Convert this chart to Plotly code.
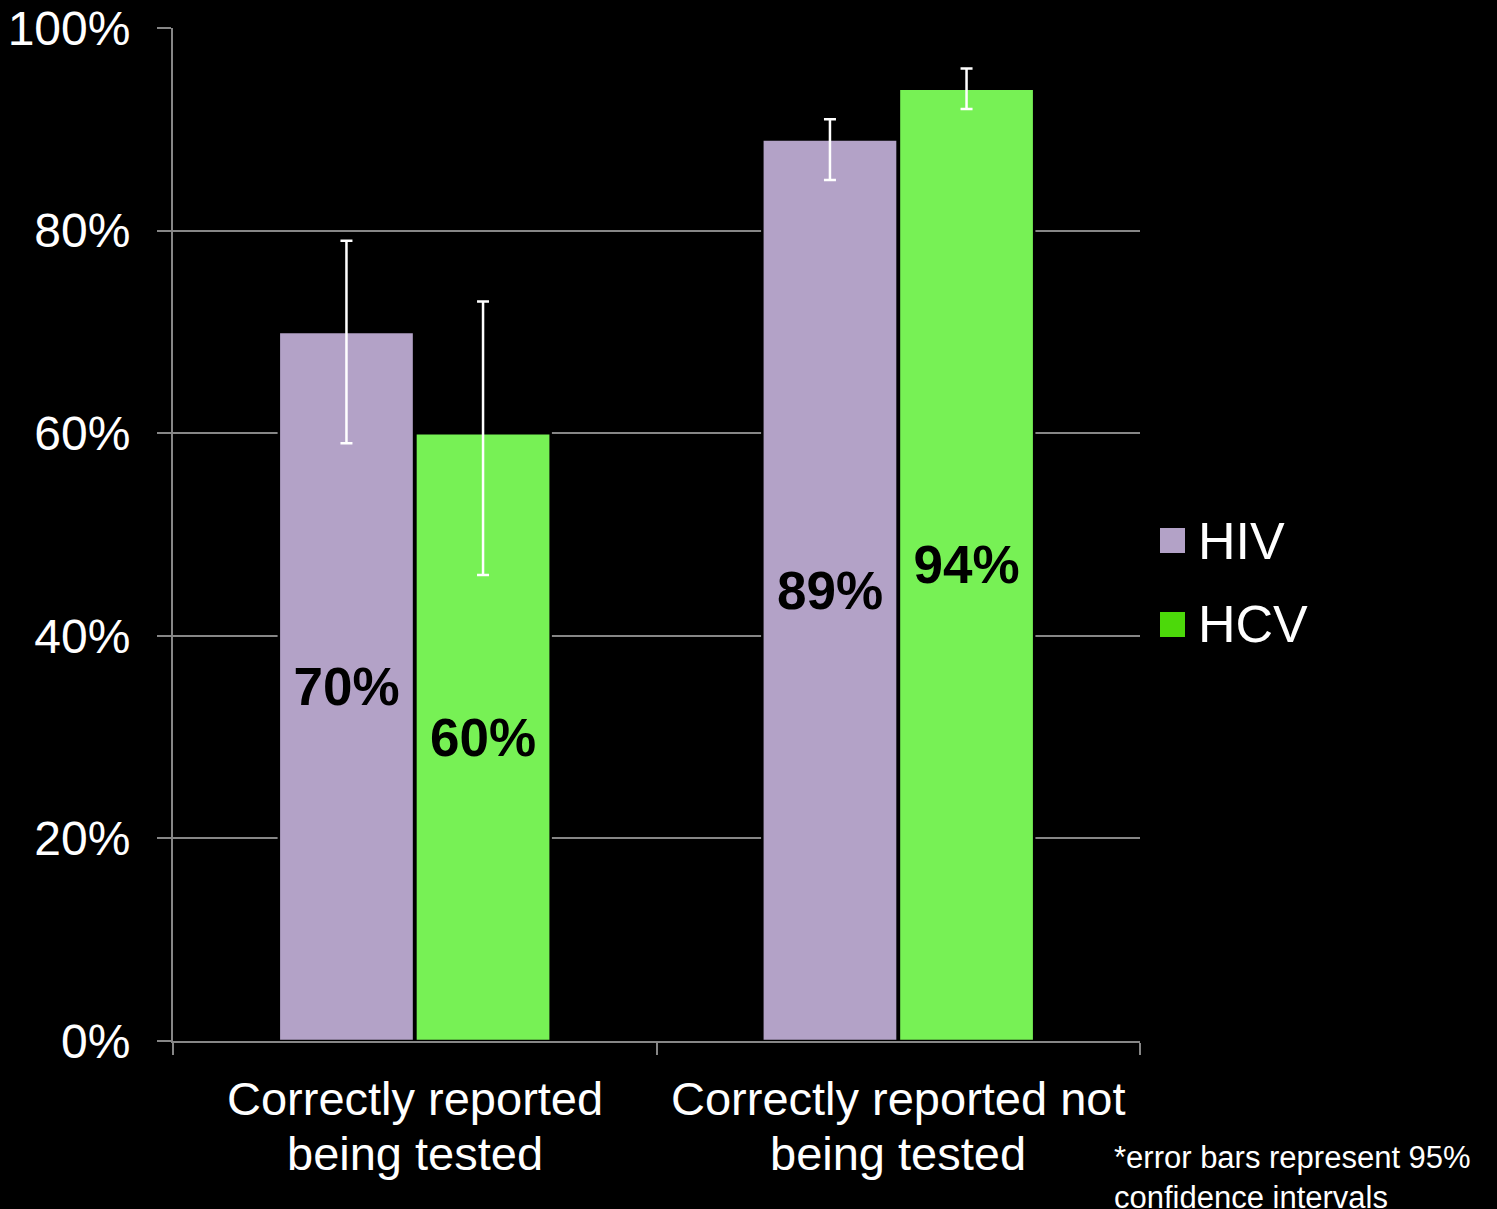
import plotly.graph_objects as go

categories = ["Correctly reported<br>being tested", "Correctly reported not<br>being tested"]
hiv_values = [70, 89]
hiv_ci_low = [59, 85]
hiv_ci_high = [79, 91]
hcv_values = [60, 94]
hcv_ci_low = [46, 92]
hcv_ci_high = [73, 96]
series_names = ["HIV", "HCV"]
y_ticks = [0, 20, 40, 60, 80, 100]

HIV_COLOR = "#B3A2C7"
HCV_COLOR = "#77F155"
HCV_LEGEND_COLOR = "#4CD90A"
GRID = "#868686"
FONT = "Liberation Sans, Arial, sans-serif"


def err(vals, lo, hi):
    return dict(
        type="data", symmetric=False,
        array=[h - v for v, h in zip(vals, hi)],
        arrayminus=[v - l for v, l in zip(vals, lo)],
        color="white", thickness=2.5, width=6,
    )


fig = go.Figure()
fig.add_trace(go.Bar(
    name=series_names[0], x=categories, y=hiv_values,
    marker=dict(color=HIV_COLOR, line=dict(color="black", width=2.5)),
    error_y=err(hiv_values, hiv_ci_low, hiv_ci_high),
    text=[f"{v}%" for v in hiv_values], textposition="inside",
    insidetextanchor="middle",
    textfont=dict(family=FONT, size=53, color="black", weight="bold"),
    showlegend=False,
))
fig.add_trace(go.Bar(
    name=series_names[1], x=categories, y=hcv_values,
    marker=dict(color=HCV_COLOR, line=dict(color="black", width=2.5)),
    error_y=err(hcv_values, hcv_ci_low, hcv_ci_high),
    text=[f"{v}%" for v in hcv_values], textposition="inside",
    insidetextanchor="middle",
    textfont=dict(family=FONT, size=53, color="black", weight="bold"),
    showlegend=False,
))

W, H = 1497, 1209
L, R, T, B = 173, 1140, 28, 1041


def px_x(p):
    return (p - L) / (R - L)


def px_y(p):
    return (B - p) / (B - T)


# category labels (two lines each, tighter line spacing than tick labels)
for cat in categories:
    for i, line in enumerate(cat.split("<br>")):
        fig.add_annotation(xref="x", yref="paper", x=cat, y=px_y(1098 + 55 * i),
                           text=line, showarrow=False, xanchor="center", yanchor="middle",
                           font=dict(family=FONT, size=47, color="white"))

# manual legend
legend_items = [(series_names[0], HIV_COLOR, 528, 553), (series_names[1], HCV_LEGEND_COLOR, 612, 637)]
for name, col, y0, y1 in legend_items:
    fig.add_shape(type="rect", xref="paper", yref="paper",
                  x0=px_x(1160), x1=px_x(1185), y0=px_y(y1), y1=px_y(y0),
                  fillcolor=col, line=dict(width=0))
    fig.add_annotation(xref="paper", yref="paper", x=px_x(1196), y=px_y((y0 + y1) / 2),
                       text=name, showarrow=False, xanchor="left", yanchor="middle",
                       font=dict(family=FONT, size=52, color="white"))

fig.add_annotation(xref="paper", yref="paper", x=px_x(1112), y=px_y(1138),
                   text="*error bars represent 95%<br>confidence intervals",
                   showarrow=False, xanchor="left", yanchor="top", align="left",
                   font=dict(family=FONT, size=31, color="white"))

fig.update_layout(
    width=W, height=H,
    paper_bgcolor="black", plot_bgcolor="black",
    margin=dict(l=L, r=W - R, t=T, b=H - B, pad=0, autoexpand=False),
    barmode="group", bargap=0.435, bargroupgap=0.01,
    font=dict(family=FONT, color="white"),
)
fig.update_xaxes(
    type="category", tickson="boundaries", ticks="outside", ticklen=12,
    tickwidth=2, tickcolor=GRID, showline=True, linecolor=GRID, linewidth=2,
    showgrid=False, showticklabels=False, automargin=False,
)
fig.update_yaxes(
    range=[0, 100], tickvals=y_ticks, ticktext=[f"{v}%" for v in y_ticks],
    ticks="outside", ticklen=14, tickwidth=2, tickcolor=GRID,
    showline=True, linecolor=GRID, linewidth=2,
    showgrid=True, gridcolor=GRID, gridwidth=2, zeroline=False,
    tickfont=dict(family=FONT, size=48, color="white"),
    ticklabelstandoff=17, automargin=False,
)

fig.write_html(
    "out.html",
    config={"displayModeBar": False},
    post_script="document.body.style.margin='0';document.body.style.background='black';",
)
